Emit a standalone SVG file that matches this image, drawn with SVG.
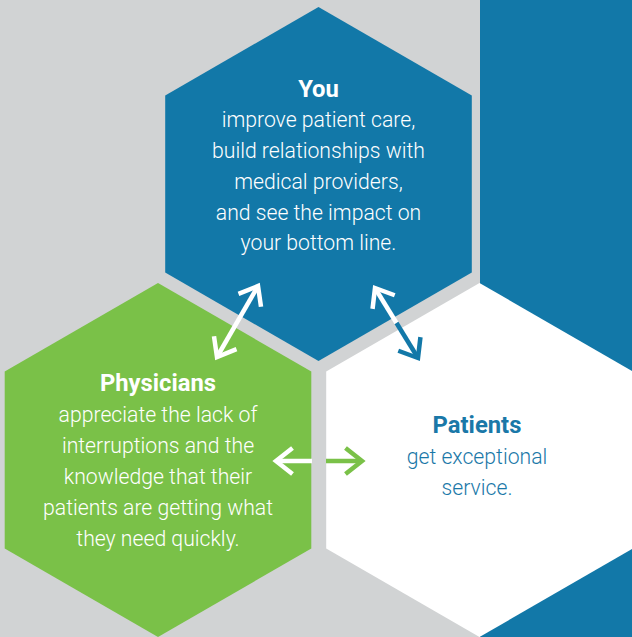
<svg xmlns="http://www.w3.org/2000/svg" width="632" height="637" viewBox="0 0 632 637">
  <style>
    .title { font-family: Roboto, "Liberation Sans", Arial, sans-serif; font-weight: 700; font-size: 23.8px; text-anchor: middle; }
    .body { font-family: Roboto, "Liberation Sans", Arial, sans-serif; font-weight: 300; font-size: 21.2px; text-anchor: middle; }
    .onDark { fill: #ffffff; }
    .onLight { fill: #1a78a8; }
    .shaft { fill: none; stroke-width: 4.5; stroke-linecap: butt; }
  </style>
  <defs>
    <marker id="headWhite" markerUnits="userSpaceOnUse" markerWidth="40" markerHeight="40" refX="0" refY="0" viewBox="-25 -20 30 40" orient="auto-start-reverse" overflow="visible">
      <path d="M-16.5,-13 L0,0 L-16.5,13" fill="none" stroke="#ffffff" stroke-width="4.5"/>
    </marker>
    <marker id="headGreen" markerUnits="userSpaceOnUse" markerWidth="40" markerHeight="40" refX="0" refY="0" viewBox="-25 -20 30 40" orient="auto-start-reverse" overflow="visible">
      <path d="M-16.5,-13 L0,0 L-16.5,13" fill="none" stroke="#7ac148" stroke-width="4.5"/>
    </marker>
    <marker id="headBlue" markerUnits="userSpaceOnUse" markerWidth="40" markerHeight="40" refX="0" refY="0" viewBox="-25 -20 30 40" orient="auto-start-reverse" overflow="visible">
      <path d="M-16.5,-13 L0,0 L-16.5,13" fill="none" stroke="#1278a8" stroke-width="4.5"/>
    </marker>
  </defs>

  <rect x="0" y="0" width="632" height="637" fill="#d1d3d4"/>
  <rect x="480" y="0" width="152" height="637" fill="#1278a8"/>

  <g id="node-you">
    <polygon points="318.5,7 471.8,95.5 471.8,272.5 318.5,361 165.2,272.5 165.2,95.5" fill="#1278a8"/>
    <text class="title onDark" x="318.5" y="97">You</text>
    <text class="body onDark" x="318.5" y="127">improve patient care,</text>
    <text class="body onDark" x="318.5" y="158">build relationships with</text>
    <text class="body onDark" x="318.5" y="189">medical providers,</text>
    <text class="body onDark" x="318.5" y="219.5">and see the impact on</text>
    <text class="body onDark" x="318.5" y="250">your bottom line.</text>
  </g>

  <g id="node-physicians">
    <polygon points="158,283 311.3,371.5 311.3,548.5 158,637 4.7,548.5 4.7,371.5" fill="#7ac148"/>
    <text class="title onDark" x="158" y="391">Physicians</text>
    <text class="body onDark" x="158" y="422">appreciate the lack of</text>
    <text class="body onDark" x="158" y="453">interruptions and the</text>
    <text class="body onDark" x="158" y="484">knowledge that their</text>
    <text class="body onDark" x="158" y="515">patients are getting what</text>
    <text class="body onDark" x="158" y="545.5">they need quickly.</text>
  </g>

  <g id="node-patients">
    <polygon points="479.5,283 632.8,371.5 632.8,548.5 479.5,637 326.2,548.5 326.2,371.5" fill="#ffffff"/>
    <text class="title onLight" x="477" y="433">Patients</text>
    <text class="body onLight" x="477" y="464">get exceptional</text>
    <text class="body onLight" x="477" y="495">service.</text>
  </g>

  <g id="connectors">
    <line class="shaft" x1="217" y1="357" x2="258" y2="286" stroke="#ffffff" marker-start="url(#headWhite)" marker-end="url(#headWhite)"/>
    <line class="shaft" x1="396.5" y1="323" x2="375" y2="288" stroke="#ffffff" marker-end="url(#headWhite)"/>
    <line class="shaft" x1="396.5" y1="323" x2="418" y2="358" stroke="#1278a8" marker-end="url(#headBlue)"/>
    <line class="shaft" x1="312" y1="461" x2="276" y2="461" stroke="#ffffff" marker-end="url(#headWhite)"/>
    <line class="shaft" x1="326" y1="461" x2="362" y2="461" stroke="#7ac148" marker-end="url(#headGreen)"/>
  </g>
</svg>
